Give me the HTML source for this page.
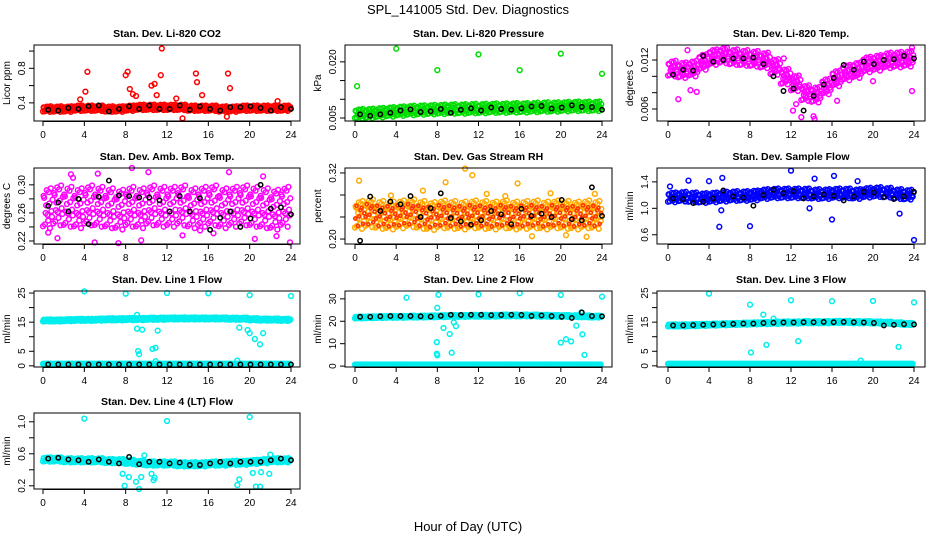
<!DOCTYPE html>
<html><head><meta charset="utf-8"><style>
body{margin:0;background:#fff}
svg{display:block;font-family:"Liberation Sans",Arial,sans-serif}
</style></head><body>
<svg id="fig" width="936" height="540" viewBox="0 0 936 540">
<text x="468" y="14" text-anchor="middle" font-size="13">SPL_141005  Std. Dev. Diagnostics</text>
<text x="468" y="531" text-anchor="middle" font-size="13">Hour of Day (UTC)</text>
</svg>
<script>
const xTicks=[0,4,8,12,16,20,24];
const co2Band=[0.33,0.33,0.33,0.34,0.34,0.34,0.33,0.33,0.34,0.35,0.35,0.35,0.35,0.35,0.34,0.34,0.34,0.33,0.33,0.34,0.34,0.34,0.34,0.34,0.34];
const co2Black=[0.32,0.31,0.34,0.33,0.36,0.37,0.30,0.33,0.36,0.33,0.37,0.33,0.33,0.37,0.32,0.36,0.33,0.31,0.35,0.35,0.36,0.34,0.31,0.35,0.33];
const co2Out=[[4.1,0.53],[4.3,0.76],[3.6,0.44],[8,0.72],[8.2,0.76],[8.4,0.56],[8.7,0.5],[9,0.48],[10.5,0.6],[10.8,0.62],[11.5,1.03],[11.4,0.72],[11,0.49],[12.9,0.45],[14.8,0.74],[14.9,0.64],[15.4,0.49],[17.9,0.74],[18.1,0.57],[13.5,0.22],[17.8,0.24],[22.7,0.42]];
const presBand=[0.0062,0.0063,0.0065,0.0067,0.0069,0.0071,0.0072,0.0073,0.0074,0.0075,0.0075,0.0076,0.0076,0.0077,0.0077,0.0078,0.0078,0.0079,0.0080,0.0080,0.0081,0.0082,0.0082,0.0082,0.0081];
const presBlack=[0.0060,0.0056,0.0060,0.0064,0.0070,0.0073,0.0066,0.0068,0.0074,0.0064,0.0072,0.0076,0.0070,0.0078,0.0074,0.0072,0.0076,0.0081,0.0082,0.0075,0.0078,0.0084,0.0080,0.0079,0.0072];
const presOut=[[4,0.0235],[0.2,0.0135],[8,0.0178],[12,0.0220],[16,0.0178],[20,0.0222],[24,0.0168]];
const tempBand=[0.0110,0.0108,0.0110,0.0118,0.0124,0.0126,0.0124,0.0123,0.0122,0.0120,0.0112,0.0100,0.0092,0.0080,0.0078,0.0088,0.0098,0.0105,0.0108,0.0115,0.0117,0.0120,0.0121,0.0122,0.0121];
const tempBlack=[0.0102,0.0108,0.0107,0.0125,0.0118,0.0120,0.0122,0.0122,0.0123,0.0115,0.0100,0.0082,0.0085,0.0058,0.0076,0.0090,0.0098,0.0114,0.0108,0.0118,0.0115,0.0120,0.0121,0.0125,0.0122];
const tempOut=[[1,0.0072],[2.2,0.0083],[2.8,0.0081],[1.9,0.0132],[11.3,0.0122],[12.2,0.0058],[13,0.0050],[14.3,0.0048],[14.2,0.0051],[16.5,0.0070],[20,0.0094],[23.8,0.0135],[23.8,0.0082],[12.5,0.0066]];
const ambBand=[0.268,0.272,0.270,0.268,0.272,0.270,0.268,0.266,0.270,0.268,0.272,0.270,0.270,0.272,0.268,0.270,0.272,0.268,0.270,0.272,0.270,0.268,0.266,0.270,0.264];
const ambBlack=[0.270,0.275,0.262,0.280,0.244,0.283,0.306,0.285,0.284,0.282,0.282,0.278,0.262,0.284,0.262,0.281,0.236,0.253,0.262,0.240,0.252,0.300,0.266,0.268,0.258];
const ambOut=[[0.5,0.232],[1.4,0.224],[2.7,0.315],[5,0.218],[5.3,0.316],[7.3,0.217],[8.6,0.324],[9.5,0.221],[10.2,0.318],[13.5,0.228],[15.2,0.235],[16.5,0.231],[18,0.318],[20.5,0.223],[21.3,0.312],[22.6,0.227],[23.9,0.218],[2.9,0.310]];
const rhBand=[0.245,0.248,0.245,0.244,0.246,0.248,0.245,0.243,0.246,0.245,0.244,0.246,0.245,0.244,0.246,0.244,0.245,0.246,0.244,0.246,0.245,0.244,0.246,0.245,0.246];
const rhBlack=[0.197,0.277,0.251,0.268,0.263,0.278,0.240,0.256,0.283,0.238,0.232,0.226,0.234,0.251,0.245,0.227,0.255,0.242,0.246,0.240,0.271,0.236,0.234,0.294,0.242];
const rhOut=[[0.4,0.306],[1.2,0.335],[3.5,0.279],[6.6,0.288],[8.8,0.303],[10.7,0.328],[11.4,0.316],[12.8,0.282],[14.6,0.278],[15.8,0.301],[17.2,0.205],[19,0.283],[20.5,0.207],[22.5,0.204],[23.3,0.282]];
const flowBand=[1.17,1.18,1.17,1.16,1.17,1.18,1.19,1.19,1.20,1.22,1.23,1.23,1.23,1.23,1.22,1.22,1.23,1.23,1.22,1.24,1.25,1.24,1.22,1.21,1.20];
const flowBlack=[1.15,1.14,1.08,1.10,1.15,1.27,1.18,1.16,1.04,1.20,1.28,1.23,1.26,1.15,1.18,1.21,1.19,1.12,1.18,1.25,1.24,1.17,1.14,1.18,1.25];
const flowOut=[[0.2,1.33],[2,1.42],[4,1.41],[5,0.72],[5.2,0.97],[5.3,1.46],[8,0.73],[12,1.57],[14.3,1.45],[13.8,1.00],[16,0.83],[16.2,1.49],[22.6,0.92],[24,0.52],[18.5,1.41]];
const l1Band=[15.6,15.6,15.7,15.8,15.8,15.9,16.0,16.0,16.1,16.1,16.2,16.2,16.3,16.3,16.3,16.3,16.3,16.3,16.2,16.2,16.0,15.9,15.9,15.8,15.7];
const l1Black=[0.5,0.5,0.5,0.5,0.5,0.5,0.5,0.5,0.5,0.5,0.5,0.5,0.5,0.5,0.5,0.5,0.5,0.5,0.5,0.5,0.5,0.5,0.5,0.5,0.5];
const l1Out=[[4,25.6],[8,24.8],[12,25],[16,24.9],[20,24.3],[24,24],[9.1,12.8],[9.6,12.4],[9.2,5.1],[9.3,4.0],[10.6,5.8],[10.9,6.2],[11.1,12.1],[19,13.1],[19.8,12.3],[20,11.2],[20.5,9.2],[21,7.4],[21.3,11.2],[18.8,1.8],[10.9,1.6],[9.1,17.5]];
const l2Band=[21.7,21.8,21.9,22.0,22.0,22.1,22.1,22.2,22.3,22.4,22.4,22.5,22.5,22.5,22.6,22.6,22.6,22.6,22.5,22.4,22.4,22.3,22.2,22.1,22.0];
const l2Black=[22,22,22.2,22.3,22.3,22.3,22.2,22.1,22.4,22.9,22.8,22.9,22.9,22.7,22.8,22.9,22.8,22.4,22.6,22.3,22,21.5,23.9,22.3,22.2];
const l2Out=[[5,30.5],[8,26],[8.1,31.8],[12,32],[16,32.5],[20,31.7],[24,31],[8.6,17],[9.2,14.3],[9.4,6],[9.6,19.5],[9.8,17.8],[20,10.5],[20.5,12],[21,11],[21.5,18],[22.1,14.2],[22.3,5],[22,24],[7.95,10.7],[7.95,5.5],[8,4.8]];
const l3Band=[13.9,13.9,14.0,14.1,14.2,14.3,14.4,14.5,14.6,14.7,14.8,14.9,14.9,15.0,15.0,15.0,15.1,15.1,15.0,15.0,14.9,14.8,14.6,14.4,14.2];
const l3Black=[13.9,13.9,14.0,14.1,14.2,14.3,14.4,14.5,14.5,14.7,14.8,14.9,14.9,15.0,15.0,15.1,15.0,15.1,15.0,14.9,14.7,13.9,14.1,14.3,14.2];
const l3Out=[[4,24.8],[8,21],[8.1,4.6],[12,22.5],[16,22.2],[20,22.3],[24,21.8],[9.3,17.6],[9.6,7.2],[10.3,16.2],[12.7,8.5],[18.8,1.8],[22.5,6.5]];
const l4Band=[0.53,0.53,0.52,0.52,0.52,0.52,0.51,0.51,0.50,0.49,0.48,0.48,0.48,0.47,0.47,0.47,0.48,0.48,0.49,0.49,0.50,0.51,0.52,0.52,0.53];
const l4Black=[0.54,0.55,0.53,0.52,0.50,0.53,0.50,0.48,0.56,0.47,0.50,0.50,0.48,0.49,0.46,0.46,0.48,0.50,0.48,0.50,0.50,0.50,0.52,0.54,0.52];
const l4Out=[[4,1.04],[12,1.01],[20,1.06],[7.7,0.35],[7.9,0.20],[8.3,0.31],[9,0.25],[9.3,0.16],[9.5,0.31],[9.8,0.58],[10.5,0.35],[10.7,0.27],[10.8,0.30],[18.8,0.21],[19,0.28],[20.3,0.36],[20.6,0.19],[21,0.19],[21.1,0.37],[21.9,0.35],[22,0.59]];

const panels=[
 {t:"Stan. Dev. Li-820 CO2",yl:"Licor ppm",c:0,r:0,y0:0.19,y1:1.07,ticks:[0.4,0.6,0.8,1.0],labs:["0.4","","0.8",""],band:co2Band,blk:co2Black,out:co2Out,col:"#ff0000",sp:0.03},
 {t:"Stan. Dev. Li-820 Pressure",yl:"kPa",c:1,r:0,y0:0.0042,y1:0.0245,ticks:[0.005,0.01,0.015,0.02],labs:["0.005","","","0.020"],band:presBand,blk:presBlack,out:presOut,col:"#00dd00",sp:0.0012},
 {t:"Stan. Dev. Li-820 Temp.",yl:"degrees C",c:2,r:0,y0:0.00453,y1:0.01384,ticks:[0.006,0.008,0.01,0.012],labs:["0.006","","","0.012"],band:tempBand,blk:tempBlack,out:tempOut,col:"#ff00ff",sp:0.0009},
 {t:"Stan. Dev. Amb. Box Temp.",yl:"degrees C",c:0,r:1,y0:0.2157,y1:0.324,ticks:[0.22,0.24,0.26,0.28,0.30],labs:["0.22","","0.26","","0.30"],band:ambBand,blk:ambBlack,out:ambOut,col:"#ff00ff",sp:0.027},
 {t:"Stan. Dev. Gas Stream RH",yl:"percent",c:1,r:1,y0:0.191,y1:0.329,ticks:[0.2,0.24,0.28,0.32],labs:["0.20","","","0.32"],band:rhBand,blk:rhBlack,out:rhOut,col:"#ffaa00",sp:0.024,inner:"#ff3300"},
 {t:"Stan. Dev. Sample Flow",yl:"ml/min",c:2,r:1,y0:0.46,y1:1.61,ticks:[0.6,1.0,1.4],labs:["0.6","1.0","1.4"],band:flowBand,blk:flowBlack,out:flowOut,col:"#0000ff",sp:0.07},
 {t:"Stan. Dev. Line 1 Flow",yl:"ml/min",c:0,r:2,y0:-0.4,y1:25.7,ticks:[0,5,10,15,20,25],labs:["0","5","","15","","25"],band:l1Band,blk:l1Black,out:l1Out,col:"#00eeee",sp:0.35,low:0.7},
 {t:"Stan. Dev. Line 2 Flow",yl:"ml/min",c:1,r:2,y0:-0.4,y1:33.5,ticks:[0,10,20,30],labs:["0","10","20","30"],band:l2Band,blk:l2Black,out:l2Out,col:"#00eeee",sp:0.4,low:0.7},
 {t:"Stan. Dev. Line 3 Flow",yl:"ml/min",c:2,r:2,y0:-0.4,y1:25.7,ticks:[0,5,10,15,20,25],labs:["0","5","","15","","25"],band:l3Band,blk:l3Black,out:l3Out,col:"#00eeee",sp:0.35,low:0.7},
 {t:"Stan. Dev. Line 4 (LT) Flow",yl:"ml/min",c:0,r:3,y0:0.16,y1:1.11,ticks:[0.2,0.4,0.6,0.8,1.0],labs:["0.2","","0.6","","1.0"],band:l4Band,blk:l4Black,out:l4Out,col:"#00eeee",sp:0.025}
];
const colL=[34,345,657], colR=[300,612,925], tx0=[43,355,668], tx1=[291,602,914];
const rowT=[45,168,291,413], rowB=[121,244,367,489];
const dxs=[0,0.12,0.25,0.37,0.5,0.62,0.75,0.87];
const dys=[-1,0.5,-0.3,0.9,-0.7,0.2,1,-0.5];
const dys2=[0.6,-0.9,0.1,-0.4,0.8,-1.1,-0.2,0.4];
const NS="http://www.w3.org/2000/svg";
const svg=document.getElementById('fig');
function mk(tag,attrs,parent){const e=document.createElementNS(NS,tag);for(const k in attrs)e.setAttribute(k,attrs[k]);(parent||svg).appendChild(e);return e;}
panels.forEach((p,i)=>{
 const L=colL[p.c],R=colR[p.c],T=rowT[p.r],B=rowB[p.r];
 const xs=h=>tx0[p.c]+(tx1[p.c]-tx0[p.c])*h/24;
 const ys=v=>B-(v-p.y0)/(p.y1-p.y0)*(B-T);
 const g=mk('g',{});
 
 
 const tt=mk('text',{x:(L+R)/2,y:T-8,'text-anchor':'middle','font-size':10.5,'font-weight':'bold'},g);tt.textContent=p.t;
 
 
 const pts=mk('g',{fill:'none','stroke-width':1.5},g);
 
 
 function circ(h,v,c,r){const y=ys(v);if(y<T-3||y>B+3)return;const e=mk('circle',{cx:xs(h).toFixed(1),cy:y.toFixed(1),r:r||2.4,stroke:c},pts);
  
  }
 p.band.forEach((v,h)=>{if(h===24)return;dxs.forEach((dx,k)=>{circ(h+dx,v+dys[k]*p.sp,p.col);circ(h+dx+0.06,v+dys2[k]*p.sp,p.col);if(p.low!==undefined)circ(h+dx,p.low,p.col);});});
 if(p.inner){p.band.forEach((v,h)=>{if(h===24)return;dxs.forEach((dx,k)=>{circ(h+dx+0.03,v+dys2[(k+3)%8]*p.sp*0.8,p.inner,1.6);});});}
 p.out.forEach(o=>circ(o[0],o[1],p.col));
 p.blk.forEach((v,h)=>{circ(0.5+h*23.5/24,v,'#000',2.2);});
 const fr=mk('rect',{x:L,y:T,width:R-L,height:B-T,fill:'none',stroke:'#000','stroke-width':1},g);
 
 
 const xa=mk('g',{},g);
 
 
 mk('line',{x1:xs(0),x2:xs(24),y1:B+0.5,y2:B+0.5,stroke:'#000'},xa);
 xTicks.forEach(t=>{mk('line',{x1:xs(t),x2:xs(t),y1:B,y2:B+5,stroke:'#000'},xa);
  const l=mk('text',{x:xs(t),y:B+17,'text-anchor':'middle','font-size':10},xa);l.textContent=t;
  
  });
 const ya=mk('g',{},g);
 
 
 p.ticks.forEach((t,k)=>{const y=ys(t);mk('line',{x1:L-5,x2:L,y1:y,y2:y,stroke:'#000'},ya);
  if(p.labs[k]){const l=mk('text',{x:L-9,y:y,'text-anchor':'middle','font-size':10,transform:`rotate(-90 ${L-9} ${y})`},ya);l.textContent=p.labs[k];
  
  }});
 const yt=mk('text',{x:L-24,y:(T+B)/2,'text-anchor':'middle','font-size':10,transform:`rotate(-90 ${L-24} ${(T+B)/2})`},ya);yt.textContent=p.yl;
 
 
});
</script>
</body></html>
